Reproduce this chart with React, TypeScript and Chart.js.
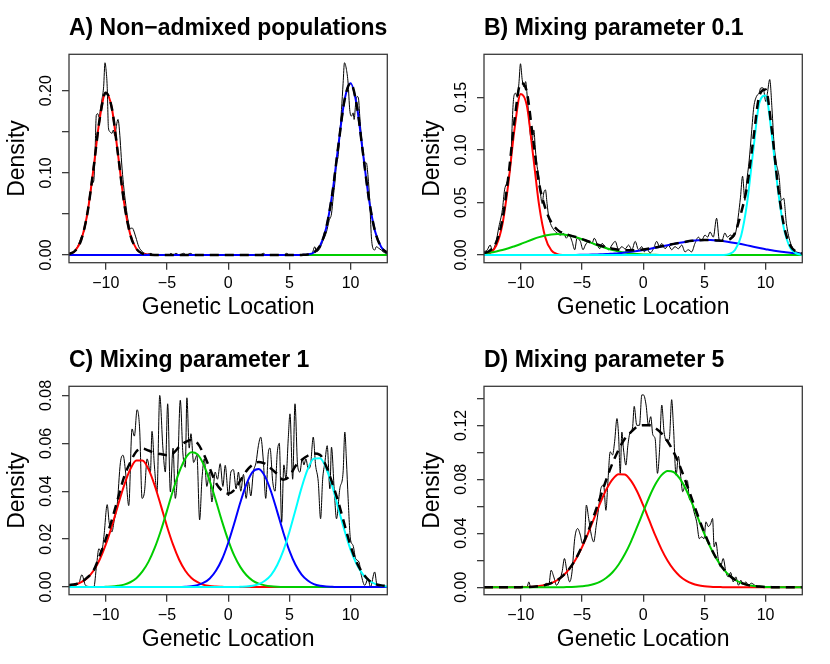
import React, { useEffect, useRef } from "react";
import Chart from "chart.js/auto";

const FONT = "'Liberation Sans', Arial, Helvetica, sans-serif";

// shared x grid for the smooth curves (step 0.5)
const gridX = [
  -13, -12.5, -12, -11.5, -11, -10.5, -10, -9.5, -9, -8.5,
  -8, -7.5, -7, -6.5, -6, -5.5, -5, -4.5, -4, -3.5,
  -3, -2.5, -2, -1.5, -1, -0.5, 0, 0.5, 1, 1.5,
  2, 2.5, 3, 3.5, 4, 4.5, 5, 5.5, 6, 6.5,
  7, 7.5, 8, 8.5, 9, 9.5, 10, 10.5, 11, 11.5,
  12, 12.5, 13,
];
const xTicks = [-10, -5, 0, 5, 10];
const xTickLabels = ["\u221210", "\u22125", "0", "5", "10"];

// ---- A) Non-admixed populations
const aRed = [
  0.0011, 0.0051, 0.0185, 0.0506, 0.105, 0.165, 0.1975, 0.1787, 0.1227, 0.0638,
  0.0251, 0.0075, 0.0017, 0.0003, 0, 0, 0, 0, 0, 0,
  0, 0, 0, 0, 0, 0, 0, 0, 0, 0,
  0, 0, 0, 0, 0, 0, 0, 0, 0, 0,
  0, 0, 0, 0, 0, 0, 0, 0, 0, 0,
  0, 0, 0,
];
const aGreen = [
  0, 0, 0, 0, 0, 0, 0, 0, 0, 0,
  0, 0, 0, 0, 0, 0, 0, 0, 0, 0,
  0, 0, 0, 0, 0, 0, 0, 0, 0, 0,
  0, 0, 0, 0, 0, 0, 0, 0, 0, 0,
  0, 0, 0, 0, 0, 0, 0, 0, 0, 0,
  0, 0, 0,
];
const aBlue = [
  0, 0, 0, 0, 0, 0, 0, 0, 0, 0,
  0, 0, 0, 0, 0, 0, 0, 0, 0, 0,
  0, 0, 0, 0, 0, 0, 0, 0, 0, 0,
  0, 0, 0, 0, 0, 0, 0, 0, 0.0001, 0.0006,
  0.003, 0.0111, 0.0324, 0.074, 0.133, 0.188, 0.209, 0.1826, 0.1255, 0.0679,
  0.0288, 0.0096, 0.0025,
];
const aMix = [
  0.0011, 0.0051, 0.0185, 0.0506, 0.105, 0.165, 0.1975, 0.1787, 0.1227, 0.0638,
  0.0251, 0.0075, 0.0017, 0.0003, 0, 0, 0, 0, 0, 0,
  0, 0, 0, 0, 0, 0, 0, 0, 0, 0,
  0, 0, 0, 0, 0, 0, 0, 0, 0.0001, 0.0006,
  0.003, 0.0111, 0.0324, 0.074, 0.133, 0.188, 0.209, 0.1826, 0.1255, 0.0679,
  0.0288, 0.0096, 0.0025,
];
const aNoisy = [
  [-13, 0.001], [-12.75, 0.003], [-12.5, 0.005], [-12.25, 0.012], [-12, 0.022], [-11.75, 0.03],
  [-11.5, 0.05], [-11.3, 0.07], [-11.1, 0.087], [-10.98, 0.09], [-10.88, 0.12], [-10.77, 0.17],
  [-10.65, 0.172], [-10.55, 0.168], [-10.45, 0.176], [-10.3, 0.19], [-10.17, 0.205], [-10.06, 0.234],
  [-9.97, 0.225], [-9.88, 0.205], [-9.78, 0.155], [-9.65, 0.15], [-9.5, 0.148], [-9.38, 0.152],
  [-9.25, 0.145], [-9.12, 0.158], [-9, 0.165], [-8.93, 0.16], [-8.82, 0.14], [-8.7, 0.112],
  [-8.55, 0.086], [-8.35, 0.06], [-8.15, 0.04], [-7.98, 0.032], [-7.85, 0.033], [-7.75, 0.031],
  [-7.55, 0.022], [-7.3, 0.01], [-7, 0.004], [-6.6, 0.001], [-6.3, 0.002], [-6.1, 0],
  [-4.85, 0], [-4.67, 0.002], [-4.5, 0], [-4.26, 0.002], [-4, 0], [-3.64, 0.002], [-3.4, 0],
  [-3.1, 0.002], [-2.8, 0], [2.6, 0], [2.88, 0.002], [3.1, 0], [4.55, 0], [4.78, 0.002], [5, 0],
  [6.8, 0], [7.08, 0.01], [7.22, 0.004], [7.49, 0.008], [7.76, 0.018], [8.03, 0.028], [8.25, 0.042],
  [8.44, 0.05], [8.58, 0.07], [8.71, 0.087], [8.85, 0.112], [8.98, 0.12], [9.12, 0.148], [9.26, 0.177],
  [9.39, 0.209], [9.5, 0.234], [9.66, 0.226], [9.8, 0.209], [9.93, 0.177], [10.07, 0.169],
  [10.21, 0.173], [10.29, 0.165], [10.42, 0.185], [10.53, 0.193], [10.64, 0.191], [10.75, 0.169],
  [10.88, 0.144], [11.02, 0.124], [11.16, 0.112], [11.29, 0.112], [11.43, 0.095], [11.56, 0.067],
  [11.7, 0.022], [11.83, 0.008], [11.97, 0.006], [12.1, 0.01], [12.32, 0.008], [12.51, 0.006],
  [12.65, 0.004], [12.87, 0.002], [13, 0.001],
];

// ---- B) Mixing parameter 0.1
const bRed = [
  0.0003, 0.002, 0.0089, 0.0289, 0.0692, 0.1206, 0.1533, 0.1422, 0.0961, 0.0474,
  0.017, 0.0045, 0.0009, 0.0001, 0, 0, 0, 0, 0, 0,
  0, 0, 0, 0, 0, 0, 0, 0, 0, 0,
  0, 0, 0, 0, 0, 0, 0, 0, 0, 0,
  0, 0, 0, 0, 0, 0, 0, 0, 0, 0,
  0, 0, 0,
];
const bGreen = [
  0.0015, 0.0023, 0.0034, 0.0047, 0.0064, 0.0084, 0.0105, 0.0128, 0.015, 0.017,
  0.0186, 0.0196, 0.02, 0.0196, 0.0186, 0.017, 0.015, 0.0128, 0.0105, 0.0084,
  0.0064, 0.0047, 0.0034, 0.0023, 0.0015, 0.001, 0.0006, 0.0004, 0.0002, 0.0001,
  0, 0, 0, 0, 0, 0, 0, 0, 0, 0,
  0, 0, 0, 0, 0, 0, 0, 0, 0, 0,
  0, 0, 0,
];
const bBlue = [
  0, 0, 0, 0, 0, 0, 0, 0, 0, 0,
  0, 0, 0, 0, 0.0001, 0.0001, 0.0002, 0.0003, 0.0005, 0.0007,
  0.0009, 0.0013, 0.0017, 0.0023, 0.003, 0.0038, 0.0047, 0.0058, 0.007, 0.0082,
  0.0094, 0.0106, 0.0117, 0.0127, 0.0135, 0.014, 0.0143, 0.0142, 0.0139, 0.0133,
  0.0125, 0.0115, 0.0104, 0.0092, 0.0079, 0.0067, 0.0056, 0.0045, 0.0036, 0.0028,
  0.0022, 0.0016, 0.0012,
];
const bCyan = [
  0, 0, 0, 0, 0, 0, 0, 0, 0, 0,
  0, 0, 0, 0, 0, 0, 0, 0, 0, 0,
  0, 0, 0, 0, 0, 0, 0, 0, 0, 0,
  0, 0, 0, 0, 0, 0, 0, 0, 0, 0.0001,
  0.0009, 0.0048, 0.0182, 0.0503, 0.1004, 0.1451, 0.1518, 0.115, 0.0631, 0.0251,
  0.0072, 0.0015, 0.0002,
];
const bMix = [
  0.0018, 0.0043, 0.0123, 0.0336, 0.0756, 0.129, 0.1638, 0.155, 0.1111, 0.068,
  0.045, 0.031, 0.024, 0.0205, 0.0187, 0.0171, 0.0152, 0.0131, 0.011, 0.0091,
  0.0073, 0.006, 0.0051, 0.0046, 0.0045, 0.0048, 0.0053, 0.0062, 0.0072, 0.0083,
  0.0094, 0.0106, 0.0117, 0.0127, 0.0135, 0.014, 0.0143, 0.0142, 0.0139, 0.0136,
  0.0145, 0.021, 0.04, 0.066, 0.11, 0.152, 0.1574, 0.12, 0.0667, 0.0279,
  0.0094, 0.0031, 0.0014,
];
const bNoisy = [
  [-13, 0.003], [-12.73, 0.005], [-12.5, 0.0095], [-12.32, 0.005], [-12.05, 0.011], [-11.78, 0.027],
  [-11.5, 0.043], [-11.32, 0.062], [-11.16, 0.068], [-10.97, 0.075], [-10.8, 0.09], [-10.68, 0.13],
  [-10.56, 0.151], [-10.42, 0.154], [-10.28, 0.15], [-10.15, 0.163], [-10.02, 0.182], [-9.88, 0.167],
  [-9.74, 0.16], [-9.6, 0.165], [-9.47, 0.151], [-9.34, 0.132], [-9.2, 0.113], [-9.07, 0.109],
  [-8.93, 0.119], [-8.8, 0.1], [-8.66, 0.084], [-8.52, 0.075], [-8.39, 0.059], [-8.25, 0.049],
  [-8.12, 0.059], [-7.98, 0.062], [-7.85, 0.049], [-7.71, 0.036], [-7.57, 0.03], [-7.3, 0.024],
  [-7.03, 0.021], [-6.76, 0.019], [-6.49, 0.0206], [-6.27, 0.016], [-6.08, 0.02], [-5.81, 0.013],
  [-5.59, 0.005], [-5.4, 0.016], [-5.13, 0.013], [-4.91, 0.005], [-4.72, 0.0095], [-4.45, 0.013],
  [-4.18, 0.011], [-3.99, 0.016], [-3.77, 0.011], [-3.55, 0.006], [-3.36, 0.011], [-3.09, 0.008],
  [-2.82, 0.005], [-2.55, 0.0095], [-2.28, 0.013], [-2.01, 0.005], [-1.74, 0.008], [-1.47, 0.0057],
  [-1.19, 0.0095], [-0.92, 0.005], [-0.65, 0.013], [-0.38, 0.005], [-0.11, 0.008], [0.1, 0.003],
  [0.3, 0.006], [0.57, 0.002], [0.84, 0.006], [1.11, 0.013], [1.33, 0.008], [1.52, 0.011],
  [1.79, 0.006], [2.06, 0.0095], [2.33, 0.005], [2.6, 0.008], [2.88, 0.006], [3.15, 0.0095],
  [3.42, 0.003], [3.69, 0.005], [3.96, 0.003], [4.23, 0.011], [4.51, 0.017], [4.78, 0.014],
  [5.05, 0.019], [5.27, 0.017], [5.46, 0.022], [5.73, 0.017], [6, 0.035], [6.22, 0.014],
  [6.41, 0.013], [6.68, 0.021], [6.87, 0.017], [7.14, 0.019], [7.36, 0.017], [7.57, 0.022],
  [7.76, 0.036], [7.95, 0.055], [8.12, 0.075], [8.31, 0.052], [8.44, 0.068], [8.66, 0.09],
  [8.85, 0.116], [9.04, 0.141], [9.26, 0.151], [9.47, 0.154], [9.61, 0.159], [9.8, 0.159],
  [10.02, 0.146], [10.15, 0.154], [10.34, 0.167], [10.53, 0.138], [10.69, 0.106], [10.88, 0.087],
  [11.1, 0.075], [11.29, 0.052], [11.48, 0.054], [11.7, 0.03], [11.97, 0.014], [12.24, 0.006],
  [12.51, 0.003], [12.79, 0.002], [13, 0.001],
];

// ---- C) Mixing parameter 1
const cRed = [
  0.0004, 0.0009, 0.002, 0.0038, 0.0068, 0.0114, 0.0177, 0.0254, 0.0341, 0.0424,
  0.0491, 0.0528, 0.0528, 0.0491, 0.0424, 0.0341, 0.0254, 0.0177, 0.0114, 0.0068,
  0.0038, 0.002, 0.0009, 0.0004, 0.0002, 0.0001, 0, 0, 0, 0,
  0, 0, 0, 0, 0, 0, 0, 0, 0, 0,
  0, 0, 0, 0, 0, 0, 0, 0, 0, 0,
  0, 0, 0,
];
const cGreen = [
  0, 0, 0, 0, 0, 0, 0.0001, 0.0002, 0.0005, 0.001,
  0.002, 0.0037, 0.0065, 0.0106, 0.0163, 0.0235, 0.0318, 0.0404, 0.048, 0.0537,
  0.0563, 0.0554, 0.0511, 0.0442, 0.036, 0.0274, 0.0196, 0.0131, 0.0083, 0.0049,
  0.0027, 0.0014, 0.0007, 0.0003, 0.0001, 0, 0, 0, 0, 0,
  0, 0, 0, 0, 0, 0, 0, 0, 0, 0,
  0, 0, 0,
];
const cBlue = [
  0, 0, 0, 0, 0, 0, 0, 0, 0, 0,
  0, 0, 0, 0, 0, 0, 0, 0, 0, 0.0001,
  0.0003, 0.0008, 0.0018, 0.0036, 0.0068, 0.0116, 0.0184, 0.0266, 0.0354, 0.0431,
  0.0481, 0.0493, 0.0463, 0.0399, 0.0316, 0.0229, 0.0152, 0.0093, 0.0052, 0.0027,
  0.0012, 0.0005, 0.0002, 0.0001, 0, 0, 0, 0, 0, 0,
  0, 0, 0,
];
const cCyan = [
  0, 0, 0, 0, 0, 0, 0, 0, 0, 0,
  0, 0, 0, 0, 0, 0, 0, 0, 0, 0,
  0, 0, 0, 0, 0, 0, 0, 0, 0.0001, 0.0002,
  0.0005, 0.0012, 0.0026, 0.005, 0.0091, 0.0151, 0.023, 0.0322, 0.0415, 0.0492,
  0.0536, 0.0538, 0.0497, 0.0422, 0.0329, 0.0237, 0.0156, 0.0095, 0.0053, 0.0027,
  0.0013, 0.0006, 0.0002,
];
const cMix = [
  0.0008, 0.0012, 0.002, 0.004, 0.0068, 0.013, 0.02, 0.028, 0.037, 0.046,
  0.052, 0.0566, 0.0578, 0.057, 0.056, 0.0555, 0.055, 0.0558, 0.0585, 0.0605,
  0.0615, 0.06, 0.0555, 0.0495, 0.0435, 0.0402, 0.039, 0.0405, 0.0445, 0.0485,
  0.051, 0.0522, 0.0515, 0.0495, 0.0472, 0.0448, 0.0462, 0.0505, 0.053, 0.0548,
  0.0557, 0.0552, 0.0505, 0.0435, 0.0355, 0.0262, 0.0172, 0.0102, 0.0058, 0.0028,
  0.0013, 0.0007, 0.0004,
];
const cNoisy = [
  [-13, 0.0003], [-12.6, 0.0007], [-12.2, 0.0015], [-11.95, 0.0051], [-11.65, 0.0007], [-11.3, 0.0002],
  [-10.97, 0], [-10.75, 0.009], [-10.56, 0.016], [-10.35, 0.0145], [-10.15, 0.021], [-9.88, 0.0344],
  [-9.72, 0.027], [-9.5, 0.023], [-9.3, 0.028], [-9.07, 0.034], [-8.8, 0.052], [-8.58, 0.055],
  [-8.38, 0.048], [-8.12, 0.034], [-7.85, 0.066], [-7.66, 0.063], [-7.44, 0.074], [-7.23, 0.066],
  [-7.03, 0.037], [-6.83, 0.04], [-6.62, 0.0535], [-6.35, 0.048], [-6.22, 0.065], [-6.03, 0.051],
  [-5.81, 0.0397], [-5.59, 0.08], [-5.33, 0.058], [-5.13, 0.048], [-4.94, 0.0765], [-4.72, 0.0397],
  [-4.5, 0.058], [-4.32, 0.037], [-4.13, 0.048], [-3.91, 0.078], [-3.7, 0.056], [-3.5, 0.05],
  [-3.37, 0.079], [-3.18, 0.058], [-3.04, 0.064], [-2.82, 0.052], [-2.55, 0.055], [-2.33, 0.028],
  [-2.14, 0.045], [-1.95, 0.0535], [-1.74, 0.042], [-1.52, 0.048], [-1.33, 0.0355], [-1.06, 0.048],
  [-0.87, 0.045], [-0.65, 0.0515], [-0.43, 0.042], [-0.24, 0.0508], [0.03, 0.038], [0.22, 0.048],
  [0.43, 0.049], [0.65, 0.041], [0.84, 0.048], [1.03, 0.04], [1.25, 0.047], [1.47, 0.037],
  [1.66, 0.044], [1.85, 0.038], [2.06, 0.048], [2.28, 0.052], [2.47, 0.059], [2.66, 0.0626],
  [2.87, 0.053], [3.07, 0.037], [3.28, 0.056], [3.42, 0.058], [3.64, 0.044], [3.83, 0.04],
  [4.01, 0.056], [4.18, 0.06], [4.37, 0.027], [4.55, 0.051], [4.72, 0.045], [4.91, 0.062],
  [5.05, 0.0723], [5.27, 0.045], [5.46, 0.0765], [5.67, 0.051], [5.86, 0.048], [6.05, 0.0535],
  [6.19, 0.051], [6.35, 0.0535], [6.54, 0.0494], [6.73, 0.051], [6.95, 0.0626], [7.14, 0.051],
  [7.36, 0.044], [7.55, 0.0285], [7.72, 0.045], [7.9, 0.052], [8.09, 0.059], [8.31, 0.041],
  [8.44, 0.0584], [8.66, 0.041], [8.85, 0.0285], [9.12, 0.041], [9.39, 0.048], [9.53, 0.0647],
  [9.66, 0.053], [9.8, 0.037], [9.99, 0.02], [10.2, 0.0174], [10.42, 0.0118], [10.69, 0.0104],
  [10.88, 0.0049], [11.16, 0.0007], [11.43, 0.0035], [11.62, 0], [11.97, 0.0063], [12.16, 0.0007],
  [12.51, 0], [12.9, 0.0003],
];

// ---- D) Mixing parameter 5
const dRed = [
  0, 0, 0, 0, 0, 0, 0.0001, 0.0002, 0.0004, 0.0009,
  0.0017, 0.0031, 0.0054, 0.0089, 0.0139, 0.0208, 0.0296, 0.04, 0.0513, 0.0626,
  0.0726, 0.08, 0.0838, 0.0835, 0.079, 0.0711, 0.0608, 0.0495, 0.0382, 0.0281,
  0.0196, 0.013, 0.0082, 0.0049, 0.0028, 0.0015, 0.0008, 0.0004, 0.0002, 0.0001,
  0, 0, 0, 0, 0, 0, 0, 0, 0, 0,
  0, 0, 0,
];
const dGreen = [
  0, 0, 0, 0, 0, 0, 0, 0, 0, 0,
  0, 0, 0, 0.0001, 0.0002, 0.0003, 0.0007, 0.0013, 0.0024, 0.0042,
  0.007, 0.0111, 0.0169, 0.0244, 0.0337, 0.0445, 0.0558, 0.0669, 0.0763, 0.0831,
  0.0862, 0.0853, 0.0805, 0.0724, 0.0621, 0.0508, 0.0396, 0.0295, 0.0209, 0.0141,
  0.0091, 0.0056, 0.0033, 0.0018, 0.001, 0.0005, 0.0002, 0.0001, 0, 0,
  0, 0, 0,
];
const dMix = [
  0, 0, 0, 0, 0, 0, 0.0001, 0.0002, 0.0004, 0.0009,
  0.0017, 0.0031, 0.0054, 0.009, 0.0141, 0.0211, 0.0303, 0.0413, 0.0537, 0.0668,
  0.08, 0.092, 0.102, 0.11, 0.115, 0.119, 0.12, 0.12, 0.118, 0.114,
  0.108, 0.1, 0.0897, 0.0777, 0.065, 0.0523, 0.0404, 0.0299, 0.0211, 0.0142,
  0.0091, 0.0056, 0.0033, 0.0018, 0.001, 0.0005, 0.0002, 0.0001, 0, 0,
  0, 0, 0,
];
const dNoisy = [
  [-13, 0], [-9.7, 0], [-9.45, 0.001], [-9.34, 0.004], [-9.2, 0.0005], [-8.66, 0.0007],
  [-8.12, 0.0015], [-7.84, 0.003], [-7.71, 0.0015], [-7.52, 0.0126], [-7.3, 0.0077], [-7.08, 0.0015],
  [-6.89, 0.004], [-6.62, 0.0114], [-6.43, 0.0213], [-6.22, 0.0114], [-6, 0.004], [-5.81, 0.0114],
  [-5.59, 0.036], [-5.35, 0.0435], [-5.13, 0.0386], [-4.97, 0.0324], [-4.8, 0.034], [-4.64, 0.0609],
  [-4.45, 0.051], [-4.23, 0.0386], [-4.04, 0.0336], [-3.83, 0.046], [-3.64, 0.0584], [-3.45, 0.0732],
  [-3.23, 0.0757], [-3.04, 0.057], [-2.88, 0.078], [-2.69, 0.1004], [-2.5, 0.098], [-2.33, 0.1079],
  [-2.14, 0.125], [-2.01, 0.113], [-1.87, 0.0844], [-1.74, 0.115], [-1.6, 0.1017], [-1.41, 0.0905],
  [-1.25, 0.105], [-1.06, 0.115], [-0.87, 0.118], [-0.73, 0.134], [-0.52, 0.12], [-0.3, 0.12],
  [-0.11, 0.1425], [0.03, 0.1425], [0.24, 0.135], [0.43, 0.12], [0.62, 0.1264], [0.79, 0.113],
  [0.98, 0.11], [1.17, 0.0844], [1.33, 0.1], [1.52, 0.135], [1.71, 0.115], [1.93, 0.108],
  [2.14, 0.11], [2.33, 0.139], [2.47, 0.12], [2.69, 0.083], [2.88, 0.097], [3.07, 0.082],
  [3.23, 0.0708], [3.42, 0.0757], [3.61, 0.079], [3.77, 0.0658], [3.96, 0.0633], [4.15, 0.056],
  [4.37, 0.0485], [4.59, 0.036], [4.78, 0.0374], [4.97, 0.036], [5.13, 0.0485], [5.32, 0.045],
  [5.51, 0.047], [5.67, 0.051], [5.8, 0.03], [5.94, 0.0336], [6.13, 0.0213], [6.32, 0.015],
  [6.54, 0.0213], [6.76, 0.0114], [6.95, 0.0077], [7.14, 0.011], [7.36, 0.004], [7.57, 0.0077],
  [7.79, 0.0015], [7.98, 0.0052], [8.17, 0.002], [8.39, 0.004], [8.6, 0.0015], [8.85, 0.003],
  [9.12, 0.0015], [9.39, 0.0005], [9.7, 0], [13, 0],
];

const RED = "#FF0000";
const GREEN = "#00CD00";
const BLUE = "#0000FF";
const CYAN = "#00FFFF";

interface Curve {
  values: number[];
  color: string;
}

interface PanelSpec {
  title: string;
  noisy: number[][];
  curves: Curve[]; // in drawing order, last one on top
  mix: number[];
  yRange: number[];
  yTicks: number[];
  yLabels: string[];
}

const panels: PanelSpec[] = [
  {
    title: "A) Non\u2212admixed populations",
    noisy: aNoisy,
    curves: [
      { values: aRed, color: RED },
      { values: aGreen, color: GREEN },
      { values: aBlue, color: BLUE },
    ],
    mix: aMix,
    yRange: [-0.0094, 0.2443],
    yTicks: [0, 0.05, 0.1, 0.15, 0.2],
    yLabels: ["0.00", "", "0.10", "", "0.20"],
  },
  {
    title: "B) Mixing parameter 0.1",
    noisy: bNoisy,
    curves: [
      { values: bRed, color: RED },
      { values: bGreen, color: GREEN },
      { values: bBlue, color: BLUE },
      { values: bCyan, color: CYAN },
    ],
    mix: bMix,
    yRange: [-0.0073, 0.191],
    yTicks: [0, 0.05, 0.1, 0.15],
    yLabels: ["0.00", "0.05", "0.10", "0.15"],
  },
  {
    title: "C) Mixing parameter 1",
    noisy: cNoisy,
    curves: [
      { values: cRed, color: RED },
      { values: cGreen, color: GREEN },
      { values: cBlue, color: BLUE },
      { values: cCyan, color: CYAN },
    ],
    mix: cMix,
    yRange: [-0.0032, 0.0838],
    yTicks: [0, 0.02, 0.04, 0.06, 0.08],
    yLabels: ["0.00", "0.02", "0.04", "0.06", "0.08"],
  },
  {
    title: "D) Mixing parameter 5",
    noisy: dNoisy,
    curves: [
      { values: dRed, color: RED },
      { values: dGreen, color: GREEN },
    ],
    mix: dMix,
    yRange: [-0.0055, 0.1489],
    yTicks: [0, 0.02, 0.04, 0.06, 0.08, 0.1, 0.12, 0.14],
    yLabels: ["0.00", "", "0.04", "", "0.08", "", "0.12", ""],
  },
];

const toPoints = (vals: number[]) => vals.map((y, i) => ({ x: gridX[i], y }));

// frame around the plot region, like R's box()
const boxPlugin = {
  id: "plotBox",
  afterDraw(chart: any) {
    const { ctx, chartArea: a } = chart;
    ctx.save();
    ctx.strokeStyle = "#3a3a3a";
    ctx.lineWidth = 1.3;
    ctx.strokeRect(a.left, a.top, a.right - a.left, a.bottom - a.top);
    ctx.restore();
  },
};

function Panel({ spec }: { spec: PanelSpec }) {
  const canvasRef = useRef<HTMLCanvasElement | null>(null);

  useEffect(() => {
    if (!canvasRef.current) return;

    // first dataset is drawn on top in Chart.js
    const datasets: any[] = [
      { data: toPoints(spec.mix), borderColor: "#000", borderWidth: 2.5, borderDash: [9, 6] },
      ...spec.curves
        .slice()
        .reverse()
        .map((c) => ({ data: toPoints(c.values), borderColor: c.color, borderWidth: 2 })),
      { data: spec.noisy.map(([x, y]) => ({ x, y })), borderColor: "#000", borderWidth: 1 },
    ].map((d) => ({
      ...d,
      showLine: true,
      fill: false,
      pointRadius: 0,
      pointHoverRadius: 0,
      cubicInterpolationMode: "monotone",
    }));

    const tickGrid = {
      display: true,
      drawOnChartArea: false,
      drawTicks: true,
      tickLength: 7,
      color: "#3a3a3a",
      lineWidth: 1.3,
    };

    const chart = new Chart(canvasRef.current, {
      type: "scatter",
      data: { datasets },
      options: {
        animation: false,
        responsive: false,
        maintainAspectRatio: false,
        events: [],
        layout: { padding: { left: 0, right: 27.7, top: 0, bottom: 0 } },
        plugins: {
          legend: { display: false },
          tooltip: { enabled: false },
          title: {
            display: true,
            text: spec.title,
            fullSize: false,
            align: "start",
            color: "#000",
            font: { family: FONT, size: 23, weight: "bold", lineHeight: 1.2 },
            padding: { top: 15, bottom: 11.7 },
          },
        },
        scales: {
          x: {
            type: "linear",
            min: -13,
            max: 13,
            afterBuildTicks: (s: any) => {
              s.ticks = xTicks.map((v) => ({ value: v }));
            },
            afterFit: (s: any) => {
              s.height = 69.3;
            },
            ticks: {
              autoSkip: false,
              maxRotation: 0,
              padding: 4,
              color: "#000",
              font: { family: FONT, size: 16 },
              callback: (_v: any, i: number) => xTickLabels[i],
            },
            grid: tickGrid,
            border: { display: false },
            title: {
              display: true,
              text: "Genetic Location",
              color: "#000",
              font: { family: FONT, size: 23, lineHeight: 1.2 },
              padding: { top: 0, bottom: 10.5 },
            },
          },
          y: {
            type: "linear",
            min: spec.yRange[0],
            max: spec.yRange[1],
            afterBuildTicks: (s: any) => {
              s.ticks = spec.yTicks.map((v) => ({ value: v }));
            },
            afterFit: (s: any) => {
              s.width = 69;
            },
            ticks: {
              autoSkip: false,
              minRotation: 90,
              maxRotation: 90,
              crossAlign: "center",
              padding: -0.5,
              color: "#000",
              font: { family: FONT, size: 16 },
              callback: (_v: any, i: number) => spec.yLabels[i],
            },
            grid: tickGrid,
            border: { display: false },
            title: {
              display: true,
              text: "Density",
              color: "#000",
              font: { family: FONT, size: 23, lineHeight: 1.2 },
              padding: { top: 4, bottom: 0 },
            },
          },
        },
      } as any,
      plugins: [boxPlugin],
    });

    return () => {
      chart.destroy();
    };
  }, [spec]);

  return (
    <div style={{ width: 415, height: 332 }}>
      <canvas ref={canvasRef} width={415} height={332} style={{ display: "block" }}></canvas>
    </div>
  );
}

export default function App() {
  return (
    <div
      style={{
        position: "absolute",
        left: 0,
        top: 0,
        width: 830,
        height: 664,
        background: "#fff",
        display: "grid",
        gridTemplateColumns: "415px 415px",
        gridTemplateRows: "332px 332px",
      }}
    >
      {panels.map((p) => (
        <Panel key={p.title} spec={p} />
      ))}
    </div>
  );
}
